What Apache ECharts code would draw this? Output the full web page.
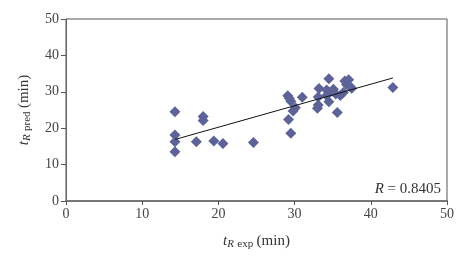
<!DOCTYPE html>
<html>
<head>
<meta charset="utf-8">
<script src="https://cdn.jsdelivr.net/npm/echarts@6/dist/echarts.min.js"></script>
<style>
  html, body { margin: 0; padding: 0; background: #fff; }
  #main { width: 476px; height: 261px; }
</style>
</head>
<body>
<div id="main"></div>
<script>
// 实测保留时间 / 预测保留时间
var tExp = [14.3, 14.3, 14.3, 14.3, 17.1, 18.0, 18.0, 19.4, 20.6, 24.6,
    29.1, 29.3, 29.5, 29.2, 29.5, 29.8, 30.1, 31.0, 33.2, 33.1,
    33.1, 33.0, 34.5, 34.2, 34.6, 34.5, 35.1, 35.6, 35.4, 36.0,
    36.6, 37.1, 36.8, 37.2, 37.5, 36.4, 42.9, 34.2];
var tPred = [24.5, 18.1, 16.3, 13.5, 16.3, 23.2, 22.1, 16.5, 15.8, 16.1,
    28.9, 28.2, 27.4, 22.4, 18.6, 24.7, 25.6, 28.5, 30.9, 28.6,
    26.4, 25.5, 33.6, 30.5, 29.8, 27.3, 30.7, 24.3, 29.4, 29.0,
    33.0, 33.3, 32.0, 31.6, 31.0, 29.8, 31.2, 29.0];
// 趋势线端点
var trendX = [14.3, 42.9];
var trendY = [16.9, 33.8];
var axisTicks = [0, 10, 20, 30, 40, 50];
var rLabel = '0.8405';

var chart;

var initChart = function() {
    chart = echarts.init(document.getElementById('main'));

    var points = [];
    for (var i = 0; i < tExp.length; i++) {
        points.push([tExp[i], tPred[i]]);
    }
    var trend = [[trendX[0], trendY[0]], [trendX[1], trendY[1]]];

    var font = 'Liberation Serif, DejaVu Serif, serif';
    var nameRich = {
        t: { fontFamily: font, fontStyle: 'italic', fontSize: 15, color: '#333' },
        sub: { fontFamily: font, fontSize: 11, color: '#333', padding: [6, 0, 0, 0] },
        subi: { fontFamily: font, fontStyle: 'italic', fontSize: 11, color: '#333', padding: [6, 0, 0, 0] },
        n: { fontFamily: font, fontSize: 15, color: '#333' }
    };

    var option = {
        animation: false,
        grid: {
            left: 66,
            right: 29,
            top: 19,
            bottom: 60,
            show: true,
            borderColor: '#555',
            borderWidth: 1
        },
        xAxis: {
            type: 'value',
            min: axisTicks[0],
            max: axisTicks[axisTicks.length - 1],
            interval: 10,
            name: '{t|t}{subi|R} {sub|exp} {n|(min)}',
            nameLocation: 'middle',
            nameGap: 32,
            nameTextStyle: { rich: nameRich },
            axisLine: { onZero: false, lineStyle: { color: '#777', width: 2 } },
            axisTick: { show: true, length: 4, lineStyle: { color: '#555' } },
            axisLabel: { fontFamily: font, fontSize: 14, color: '#444', margin: 6 },
            splitLine: { show: false }
        },
        yAxis: {
            type: 'value',
            min: axisTicks[0],
            max: axisTicks[axisTicks.length - 1],
            interval: 10,
            name: '{t|t}{subi|R} {sub|pred} {n|(min)}',
            nameLocation: 'middle',
            nameGap: 33,
            nameRotate: 90,
            nameTextStyle: { rich: nameRich },
            axisLine: { onZero: false, lineStyle: { color: '#666', width: 1 } },
            axisTick: { show: true, length: 5, lineStyle: { color: '#555' } },
            axisLabel: { fontFamily: font, fontSize: 14, color: '#444', margin: 7 },
            splitLine: { show: false }
        },
        series: [{
            name: 'data',
            type: 'scatter',
            symbol: 'diamond',
            symbolSize: 11,
            itemStyle: { color: '#5d6396', opacity: 1 },
            data: points,
            z: 2
        }, {
            name: 'trend',
            type: 'line',
            symbol: 'none',
            lineStyle: { color: '#111', width: 1 },
            data: trend,
            z: 3
        }],
        graphic: [{
            type: 'text',
            right: 35,
            top: 182,
            style: {
                text: '{r|R} = ' + rLabel,
                fontFamily: font,
                fontSize: 15,
                fill: '#333',
                rich: {
                    r: { fontFamily: font, fontStyle: 'italic', fontSize: 15, fill: '#333' }
                }
            }
        }]
    };
    chart.setOption(option);
};

initChart();

window.addEventListener('resize', function() {
    chart.resize();
});
</script>
</body>
</html>
